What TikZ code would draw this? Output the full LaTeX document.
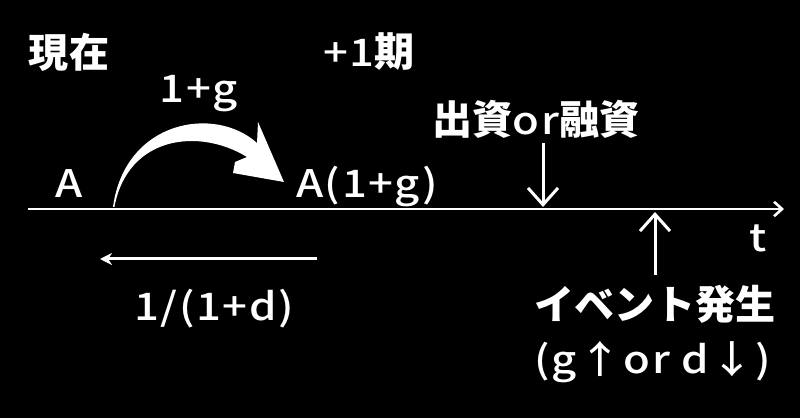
\documentclass[tikz,border=0pt]{standalone}
\usepackage{fontspec}
\setmainfont{Noto Sans CJK JP Medium}[FakeStretch=1.15, LetterSpace=4]
\newfontfamily\jpfont{Noto Sans CJK JP}
\newcommand\jptext[1]{{\jpfont\bfseries\fontsize{28.5}{32}\selectfont #1}}
\usepackage{tikz}
\usetikzlibrary{arrows.meta, positioning, calc}

\begin{document}
\begin{tikzpicture}[
    lbl/.style={text=white, inner sep=0pt, font=\fontsize{27}{32}\selectfont},
    wline/.style={white, line width=0.075cm},
    barb/.style={-{Straight Barb[length=0.42cm, width=0.75cm]}}
  ]
      \fill[black] (0, 0) rectangle (20, 10.45);
      \useasboundingbox (0, 0) rectangle (20, 10.45);

      \coordinate (tstart) at (0.7, 5.225);
      \coordinate (tend) at (19.6, 5.225);
      \draw[white, line width=0.065cm, -{Straight Barb[length=0.2cm, width=0.36cm]}] (tstart) -- (tend);
      \node[lbl, anchor=base] (t) at (18.95, 4.15) {t};

      \node[lbl] (now) at (1.725, 9.15) {\jptext{現在}};
      \node[lbl] (next) at (9.225, 9.15) {+1\jptext{期}};
      \node[lbl, anchor=base] (a) at (1.725, 5.5) {A};
      \node[lbl, anchor=base] (a1) at (9.175, 5.5) {A(1+g)};
      \node[lbl] (growth) at (4.975, 8.1) {1+g};

      \fill[white] (2.825, 5.275) .. controls (3.125, 7.45) and (5.375, 7.825) .. (6.425, 6.875)
        -- (6.45, 7.4) -- (7.1, 5.9) -- (5.825, 6.125) -- (5.875, 6.4) -- (6.175, 6.525)
        .. controls (5.0, 7.25) and (3.2, 7.075) .. (2.86, 5.275) -- cycle;

      \coordinate (discfrom) at (7.925, 3.975);
      \coordinate (discto) at (2.5, 3.975);
      \draw[wline, -{Stealth[length=0.3cm, width=0.3cm]}] (discfrom) -- (discto);
      \node[lbl] (disc) at (5.35, 2.725) {1/(1+d)};

      \node[lbl] (invest) at (13.4, 7.475) {\jptext{出資}or\jptext{融資}};
      \coordinate (investtop) at (13.575, 6.875);
      \coordinate (investfoot) at (13.575, 5.275);
      \draw[wline, barb] (investtop) -- (investfoot);

      \node[lbl] (event) at (16.375, 2.85) {\jptext{イベント発生}};
      \node[lbl] (cond) at (16.325, 1.4) {(g↑or d↓)};
      \coordinate (eventtop) at (16.375, 3.575);
      \coordinate (eventfoot) at (16.375, 5.15);
      \draw[wline, barb] (eventtop) -- (eventfoot);
    \end{tikzpicture}
\end{document}
